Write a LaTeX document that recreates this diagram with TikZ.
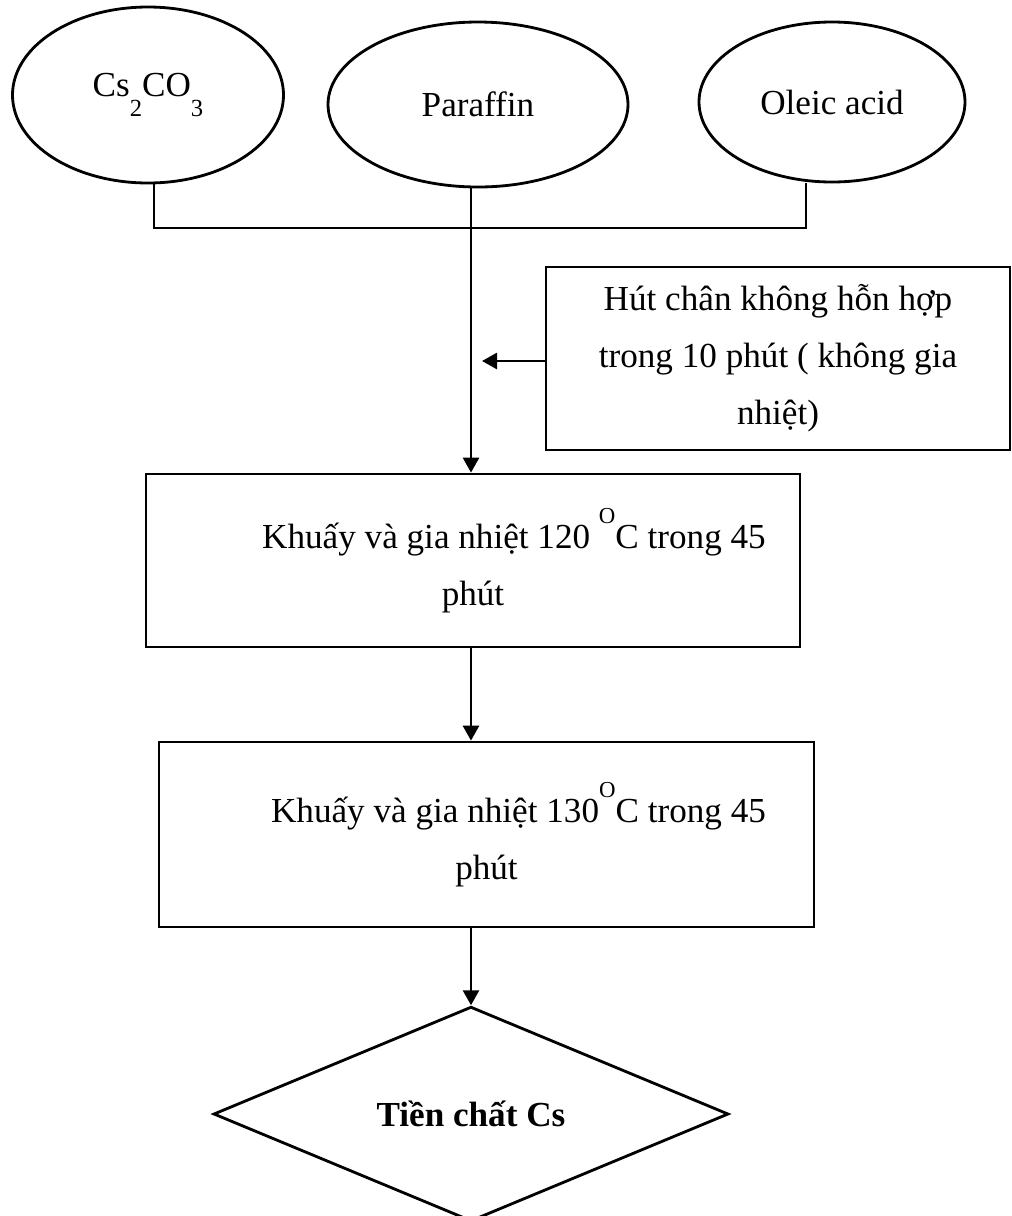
\documentclass[tikz,border=0pt]{standalone}
\usepackage{fontspec}
\setmainfont{Liberation Serif}
\usetikzlibrary{arrows.meta,positioning,shapes.geometric}
\newcommand{\supO}{\raisebox{0.7em}{\fontsize{13}{13}\selectfont O}}
\newcommand{\subnum}[1]{\raisebox{-0.55em}{\fontsize{14}{14}\selectfont #1}}
\tikzset{
  blob/.style={ellipse,draw,line width=1.6pt,inner sep=0pt,font=\fontsize{20}{32}\selectfont},
  stepbox/.style={rectangle,draw,line width=1.6pt,inner sep=0pt,align=center,font=\fontsize{20}{32.5}\selectfont},
  endnode/.style={diamond,draw,line width=1.6pt,inner sep=0pt,minimum width=10.3cm,minimum height=4.04cm,font=\fontsize{20}{32}\selectfont\bfseries},
  link/.style={line width=1.6pt},
  arrow/.style={-{Triangle[length=0.3cm,width=0.32cm]},line width=1.6pt}
}

\begin{document}
\begin{tikzpicture}
  \useasboundingbox (0,0) rectangle (20.24,-24.32);
  % inputs
  \node[blob,minimum width=5.42cm,minimum height=3.52cm] (cs) at (2.96,-1.90) {\raisebox{0.15cm}{Cs\subnum{2}CO\subnum{3}}};
  \node[blob,minimum width=6.0cm,minimum height=3.3cm] (par) at (9.56,-2.09) {Paraffin};
  \node[blob,minimum width=5.32cm,minimum height=3.2cm] (ole) at (16.64,-2.04) {Oleic acid};
  \coordinate (jn) at (9.42,-4.56);
  % process steps
  \node[stepbox,minimum width=9.28cm,minimum height=3.66cm] (vac) at (15.56,-7.17)
    {Hút chân không hỗn hợp\\trong 10 phút ( không gia\\nhiệt)};
  \coordinate (vtip) at (9.64,-7.22);
  \node[stepbox,minimum width=13.08cm,minimum height=3.46cm] (b1) at (9.46,-11.21)
    {\hspace*{1.64cm}Khuấy và gia nhiệt 120 \supO C trong 45\\phút};
  \node[stepbox,minimum width=13.1cm,minimum height=3.7cm] (b2) at (9.73,-16.69)
    {\hspace*{1.28cm}Khuấy và gia nhiệt 130\supO C trong 45\\phút};
  \node[endnode] (tc) at (9.42,-22.28) {Tiền chất Cs};
  % connectors
  \draw[link] ([xshift=0.12cm]cs.south) -- ([xshift=0.12cm]cs.south |- jn)
    -- ([xshift=-0.52cm]ole.south |- jn) -- ([xshift=-0.52cm]ole.south);
  \draw[arrow] (par.south -| jn) -- (b1.north -| jn);
  \draw[arrow] (vac.west |- vtip) -- (vtip);
  \draw[arrow] (b1.south -| jn) -- (b2.north -| jn);
  \draw[arrow] (b2.south -| tc.north) -- (tc.north);
\end{tikzpicture}
\end{document}
